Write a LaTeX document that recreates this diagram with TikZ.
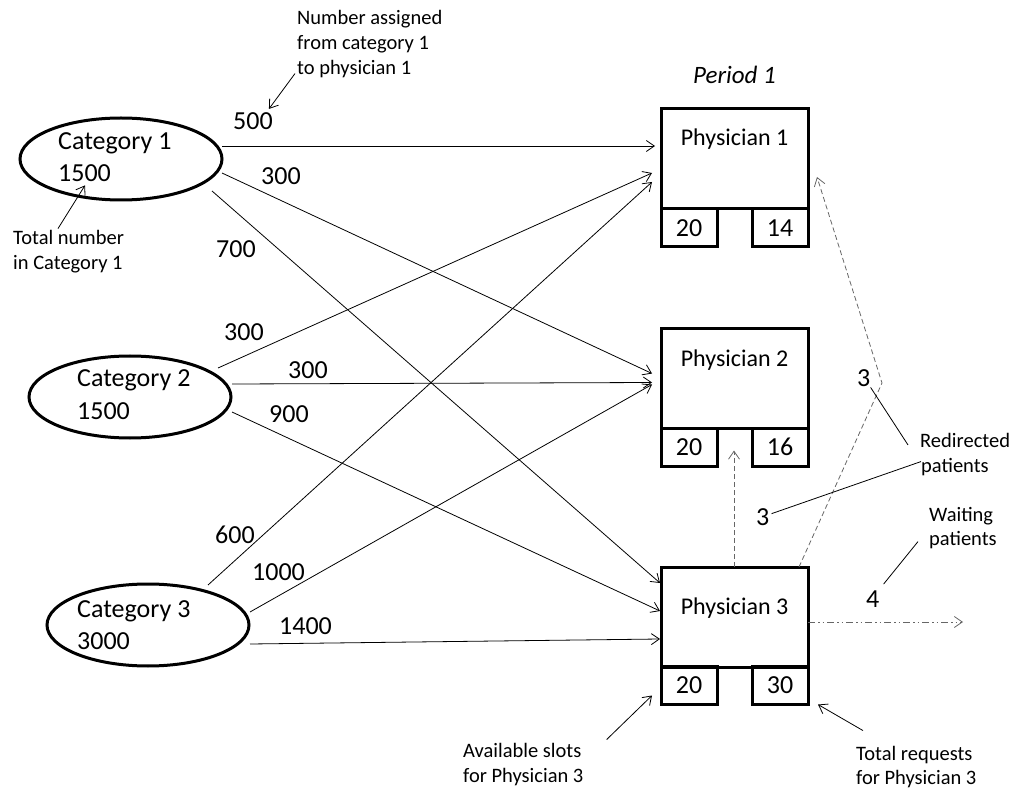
\documentclass[tikz,border=0pt]{standalone}
\usepackage{fontspec}
\setmainfont{Carlito}
\usetikzlibrary{arrows.meta,calc,shapes.geometric}
\begin{document}
\begin{tikzpicture}[x=1pt,y=-1pt,
  cat/.style={ellipse,draw,line width=3pt,minimum width=202pt,minimum height=82pt,inner sep=0pt,outer sep=0pt},
  phys/.style={draw,line width=3pt,minimum width=147pt,minimum height=100pt,inner sep=0pt,outer sep=0pt},
  slot/.style={draw,line width=3pt,minimum width=56pt,minimum height=38pt,inner sep=0pt,outer sep=0pt,text height=16.5pt,text depth=0pt,font=\fontsize{26}{31}\selectfont},
  big/.style={font=\fontsize{26}{31}\selectfont,inner sep=0pt,anchor=base west},
  plabel/.style={font=\fontsize{24}{29}\selectfont,inner sep=0pt,anchor=base},
  note/.style={font=\fontsize{20.5}{25}\selectfont,inner sep=0pt,anchor=base west},
  flow/.style={line width=0.8pt,-{Straight Barb[length=8pt,width=11pt]}},
  pointer/.style={line width=0.8pt,-{Straight Barb[length=8pt,width=11pt]}},
  plain/.style={line width=0.8pt},
  redirect/.style={line width=0.8pt,draw=black!60,dash pattern=on 5pt off 3pt,-{Straight Barb[length=8pt,width=11pt]}},
  waiting/.style={line width=0.8pt,draw=black!60,dash pattern=on 7pt off 3pt on 1.5pt off 3pt on 1.5pt off 3pt,-{Straight Barb[length=8pt,width=11pt]}}
]
\useasboundingbox (0,0) rectangle (1018,794);

% categories
\node[cat] (c1) at (121,159) {};
\node[cat] (c2) at (130,397) {};
\node[cat] (c3) at (148,625) {};
\node[big] (c1a) at (58,150) {Category 1};
\node[big] (c1b) at (58,182) {1500};
\node[big] (c2a) at (77,387) {Category 2};
\node[big] (c2b) at (77,419) {1500};
\node[big] (c3a) at (77,617) {Category 3};
\node[big] (c3b) at (77,649) {3000};

% physicians
\node[font=\itshape\fontsize{25}{30}\selectfont,inner sep=0pt,anchor=base] (per) at (734.5,84) {Period 1};
\node[phys] (p1) at (734.5,159) {};
\node[phys] (p2) at (734.5,378.5) {};
\node[phys] (p3) at (734.5,617) {};
\node[plabel] (p1l) at (734.5,146) {Physician 1};
\node[plabel] (p2l) at (734.5,367) {Physician 2};
\node[plabel] (p3l) at (734.5,614) {Physician 3};
\node[slot] (s1a) at (689,228) {20};
\node[slot] (s1b) at (780,228) {14};
\node[slot] (s2a) at (689,447) {20};
\node[slot] (s2b) at (780,447) {16};
\node[slot] (s3a) at (689,685.5) {20};
\node[slot] (s3b) at (780,685.5) {30};

% flows
\draw[flow] ($(c1.center)+(101,-13)$) -- ($(p1.north west)+(-6,37)$);
\draw[flow] ($(c1.center)+(101,14)$) -- ($(p2.north west)+(-9,45)$);
\draw[flow] ($(c1.center)+(91,32)$) -- ($(p3.north west)+(-1,16)$);
\draw[flow] ($(c2.center)+(88,-29)$) -- ($(p1.north west)+(-9,64)$);
\draw[flow] ($(c2.center)+(102,-13)$) -- ($(p2.north west)+(-9,54)$);
\draw[flow] ($(c2.center)+(102,15)$) -- ($(p3.north west)+(-1,44)$);
\draw[flow] ($(c3.center)+(60,-40)$) -- ($(p1.north west)+(-9,73)$);
\draw[flow] ($(c3.center)+(102,-13)$) -- ($(p2.north west)+(-9,56)$);
\draw[flow] ($(c3.center)+(102,19)$) -- ($(p3.north west)+(-1,72)$);

% flow labels
\node[big] (n500) at (233,130) {500};
\node[big] (n300a) at (261,185) {300};
\node[big] (n700) at (216,258) {700};
\node[big] (n300b) at (224,341) {300};
\node[big] (n300c) at (288,378) {300};
\node[big] (n900) at (269,423) {900};
\node[big] (n600) at (215,543) {600};
\node[big] (n1000) at (252,580) {1000};
\node[big] (n1400) at (279,634) {1400};

% redirected and waiting
\coordinate (bend) at (882,383);
\coordinate (wend) at (963,622);
\draw[redirect] ($(p3.north west)+(73,0)$) -- ($(p2.south west)+(73,22)$);
\draw[redirect] ($(p3.north west)+(138,0)$) -- (bend) -- ($(p1.north east)+(9,68)$);
\draw[waiting] (p3.east |- 0,622) -- (wend);
\node[big] (r3a) at (857,387) {3};
\node[big] (r3b) at (756,525) {3};
\node[big] (w4) at (866,607) {4};

% annotations
\node[note] (na1) at (297,25) {Number assigned};
\node[note] (na2) at (297,50) {from category 1};
\node[note] (na3) at (297,75) {to physician 1};
\draw[pointer] ($(na3.west)+(-2,4)$) -- ($(n500.north east)+(-4,-4)$);

\node[note] (tn1) at (13,245) {Total number};
\node[note] (tn2) at (13,270) {in Category 1};
\draw[pointer] ($(tn1.north west)+(45,-2)$) -- ($(c1b.south west)+(27,3)$);

\node[note] (rd1) at (920,447) {Redirected};
\node[note] (rd2) at (921,472) {patients};
\draw[plain] (r3a.south east) -- ($(rd1.west)+(-12,5)$);
\draw[plain] ($(r3b.east)+(2,-3)$) -- ($(rd2.west)+(0,-5)$);

\node[note] (wp1) at (929,521) {Waiting};
\node[note] (wp2) at (929,545) {patients};
\draw[plain] ($(w4.north east)+(4,-6)$) -- ($(wp2.west)+(-11,2)$);

\node[note] (av1) at (463,757) {Available slots};
\node[note] (av2) at (463,782) {for Physician 3};
\draw[pointer] ($(av1.north east)+(25,-3)$) -- ($(s3a.south west)+(-9,-9)$);

\node[note] (tr1) at (856,760) {Total requests};
\node[note] (tr2) at (856,784) {for Physician 3};
\draw[pointer] ($(tr1.north west)+(7,-15)$) -- ($(s3b.south east)+(10,0)$);
\end{tikzpicture}
\end{document}
